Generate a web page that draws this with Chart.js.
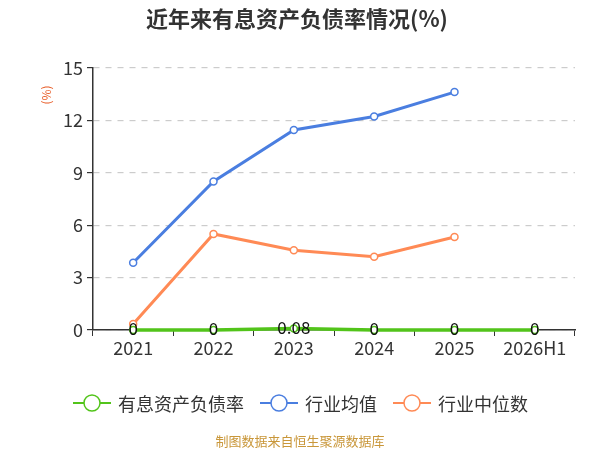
<!DOCTYPE html>
<html><head><meta charset="utf-8">
<script src="https://cdn.jsdelivr.net/npm/chart.js@4.4.1/dist/chart.umd.min.js"></script>
<style>html,body{margin:0;padding:0;background:#fff}#wrap{width:600px;height:450px;position:relative}</style>
</head><body><div id="wrap"><canvas id="c" width="600" height="450"></canvas></div>
<script>
const categories = ['2021','2022','2023','2024','2025','2026H1'];
const debtRatio = [0, 0, 0.08, 0, 0, 0];
const industryMean = [3.85, 8.5, 11.45, 12.22, 13.62, null];
const industryMedian = [0.35, 5.5, 4.57, 4.2, 5.32, null];
const debtLabels = ['0','0','0.08','0','0','0'];
const yTicks = [0, 3, 6, 9, 12, 15];
const seriesNames = ['有息资产负债率','行业均值','行业中位数'];
const colors = ['#52c41a','#4a7ee0','#ff8a55'];
const FONT = '"Noto Sans CJK SC", "Noto Sans", sans-serif';

const deco = {
  id: 'deco',
  afterDatasetsDraw(chart) {
    const ctx = chart.ctx;
    const meta = chart.getDatasetMeta(0);
    ctx.save();
    ctx.font = '17px ' + FONT;
    ctx.fillStyle = '#111';
    ctx.textAlign = 'center';
    ctx.textBaseline = 'middle';
    meta.data.forEach((p, i) => { ctx.fillText(debtLabels[i], p.x, p.y - 1); });
    ctx.restore();
  },
  afterDraw(chart) {
    const ctx = chart.ctx;
    ctx.save();
    ctx.font = 'bold 22px ' + FONT;
    ctx.fillStyle = '#333';
    ctx.textAlign = 'center';
    ctx.textBaseline = 'middle';
    ctx.fillText('近年来有息资产负债率情况(%)', 297, 19);
    ctx.save();
    ctx.translate(46, 95);
    ctx.rotate(-Math.PI/2);
    ctx.font = '12px ' + FONT;
    ctx.fillStyle = '#e8602c';
    ctx.fillText('(%)', 0, 0);
    ctx.restore();
    const lx = [92, 279, 412];
    ctx.font = '18px ' + FONT;
    ctx.textAlign = 'left';
    for (let i = 0; i < 3; i++) {
      const cx = lx[i], cy = 403;
      ctx.strokeStyle = colors[i];
      ctx.lineWidth = 2;
      ctx.beginPath(); ctx.moveTo(cx - 19, cy); ctx.lineTo(cx + 19, cy); ctx.stroke();
      ctx.beginPath(); ctx.arc(cx, cy, 8, 0, Math.PI*2);
      ctx.fillStyle = '#fff'; ctx.fill(); ctx.lineWidth = 1.5; ctx.stroke();
      ctx.fillStyle = '#333';
      ctx.fillText(seriesNames[i], cx + 26, cy + 1);
    }
    ctx.font = '13px ' + FONT;
    ctx.fillStyle = '#c9973a';
    ctx.textAlign = 'center';
    ctx.fillText('制图数据来自恒生聚源数据库', 300, 441);
    ctx.restore();
  }
};

function ds(label, data, color, width) {
  return {
    label, data, borderColor: color, backgroundColor: '#fff',
    borderWidth: width, pointRadius: 3.5, pointHoverRadius: 3.5,
    pointBorderWidth: 1.5, pointBackgroundColor: '#fff', pointBorderColor: color,
    tension: 0, spanGaps: false, clip: false
  };
}

new Chart(document.getElementById('c'), {
  type: 'line',
  data: {
    labels: categories,
    datasets: [
      ds(seriesNames[0], debtRatio, colors[0], 3.5),
      ds(seriesNames[1], industryMean, colors[1], 3),
      ds(seriesNames[2], industryMedian, colors[2], 3)
    ]
  },
  options: {
    responsive: false,
    animation: false,
    devicePixelRatio: 1,
    layout: { padding: { left: 0, right: 25, top: 68, bottom: 0 } },
    plugins: { legend: { display: false }, title: { display: false }, tooltip: { enabled: false } },
    scales: {
      x: {
        offset: true,
        afterFit(s) { s.height = 120; },
        grid: { offset: true, drawOnChartArea: false, tickLength: 6, color: '#333', tickColor: '#333' },
        border: { color: '#333', width: 1.5 },
        ticks: { color: '#333', font: { size: 18, family: FONT }, padding: 1 }
      },
      y: {
        min: 0, max: 15,
        afterFit(s) { s.width = 93; },
        afterBuildTicks(s) { s.ticks = yTicks.map(v => ({ value: v })); },
        grid: { color: '#cccccc', lineWidth: 1.2, tickLength: 6, tickColor: '#333', tickBorderDash: [] },
        border: { color: '#333', width: 1.5, dash: [6, 6] },
        ticks: { color: '#333', font: { size: 18, family: FONT }, padding: 4 }
      }
    }
  },
  plugins: [deco]
});
</script></body></html>
